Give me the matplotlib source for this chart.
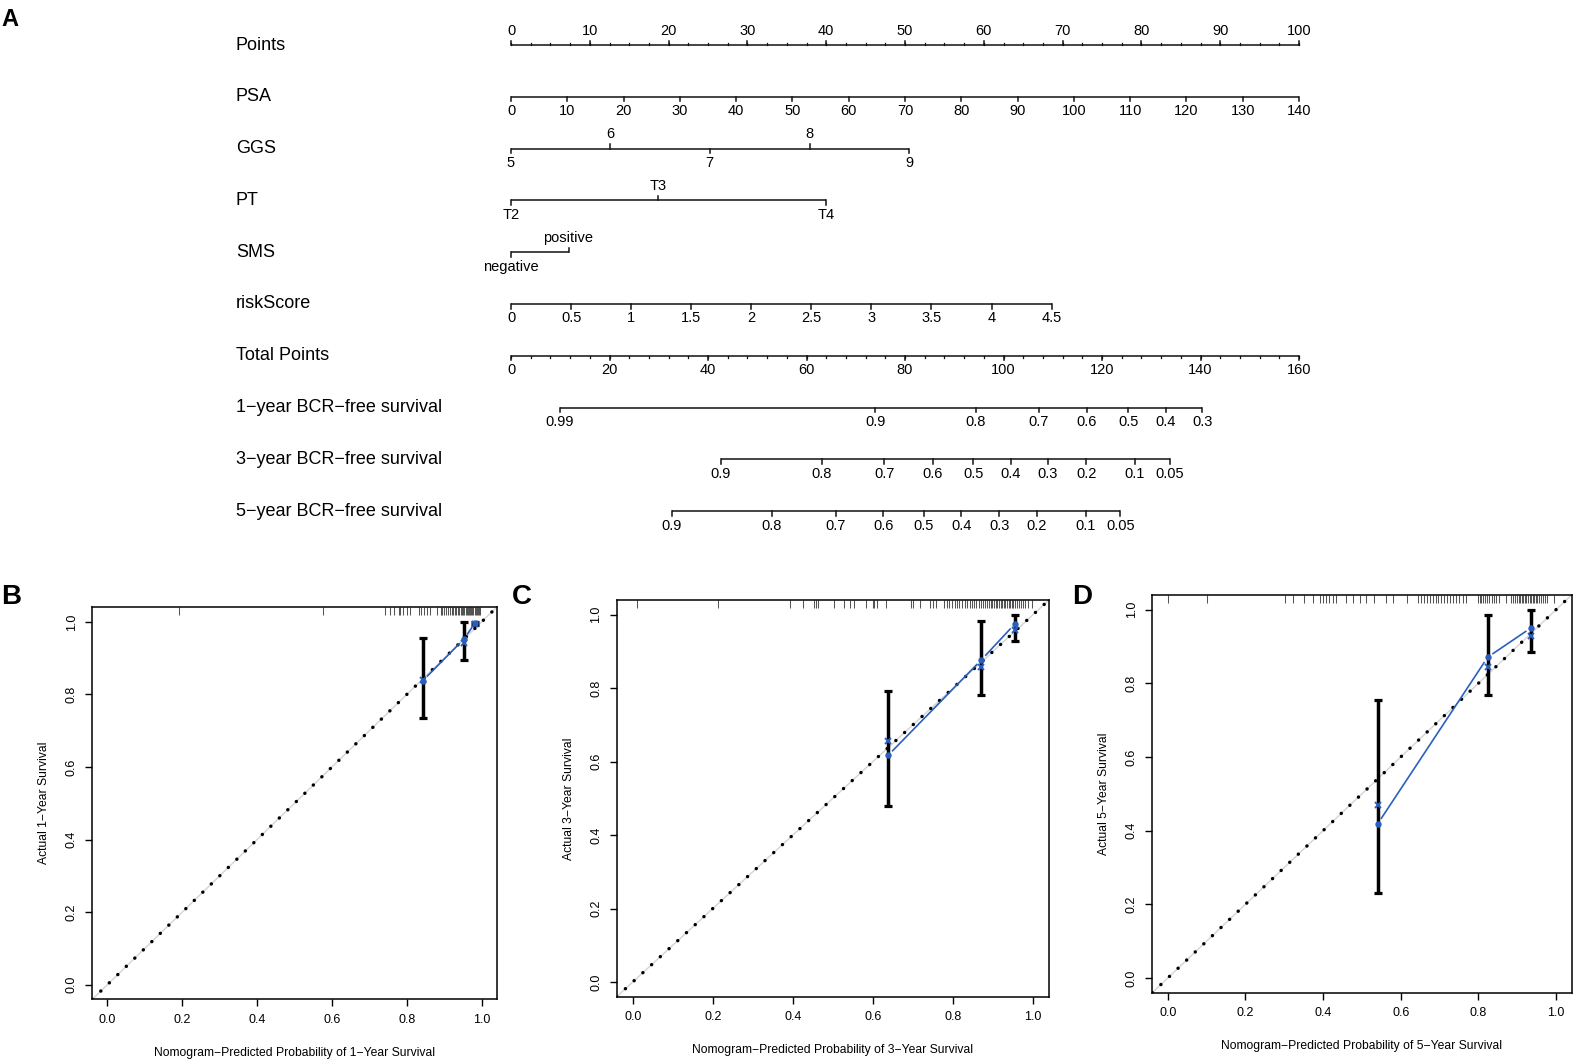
import numpy as np
import matplotlib
matplotlib.use('Agg')
import matplotlib.pyplot as plt
import matplotlib.transforms as mtransforms

plt.rcParams['font.family'] = ['Liberation Sans', 'DejaVu Sans']

W, H = 1573, 1060
BLUE = '#2b5fbf'

# ---------------- nomogram (A) ----------------
# positions are in "Points" units (0-100)
points_labels = [0, 10, 20, 30, 40, 50, 60, 70, 80, 90, 100]
psa_values = [0, 10, 20, 30, 40, 50, 60, 70, 80, 90, 100, 110, 120, 130, 140]
psa_pts_per_unit = 100 / 140
ggs_levels = ['5', '6', '7', '8', '9']
ggs_points = [0, 12.6, 25.2, 37.9, 50.5]
ggs_sides = ['down', 'up', 'down', 'up', 'down']
pt_levels = ['T2', 'T3', 'T4']
pt_points = [0, 18.7, 40.0]
pt_sides = ['down', 'up', 'down']
sms_levels = ['negative', 'positive']
sms_points = [0, 7.3]
sms_sides = ['down', 'up']
risk_values = [0, 0.5, 1, 1.5, 2, 2.5, 3, 3.5, 4, 4.5]
risk_labels = ['0', '0.5', '1', '1.5', '2', '2.5', '3', '3.5', '4', '4.5']
risk_pts_per_unit = 68.6 / 4.5
total_labels = [0, 20, 40, 60, 80, 100, 120, 140, 160]
total_max = 160

# survival scales: tick positions in total points
surv1_labels = ['0.99', '0.9', '0.8', '0.7', '0.6', '0.5', '0.4', '0.3']
surv1_total = [9.85, 74.0, 94.4, 107.2, 116.9, 125.3, 132.9, 140.4]
surv3_labels = ['0.9', '0.8', '0.7', '0.6', '0.5', '0.4', '0.3', '0.2', '0.1', '0.05']
surv3_total = [42.6, 63.1, 75.8, 85.6, 93.9, 101.5, 109.0, 116.8, 126.6, 133.8]
surv5_labels = ['0.9', '0.8', '0.7', '0.6', '0.5', '0.4', '0.3', '0.2', '0.1', '0.05']
surv5_total = [32.6, 53.0, 65.9, 75.6, 83.8, 91.4, 99.1, 106.8, 116.7, 123.7]

row_names = ['Points', 'PSA', 'GGS', 'PT', 'SMS', 'riskScore', 'Total Points',
             '1\u2212year BCR\u2212free survival', '3\u2212year BCR\u2212free survival',
             '5\u2212year BCR\u2212free survival']

# ---------------- calibration (B, C, D) ----------------
b_pred = [0.843, 0.952, 0.983]
b_obs = [0.838, 0.952, 0.998]
b_corr = [0.841, 0.942, 0.995]
b_lo = [0.734, 0.894, 0.992]
b_hi = [0.956, 1.000, 1.000]
b_rug = [0.192, 0.576, 0.742, 0.756, 0.765, 0.778, 0.783, 0.791, 0.800, 0.809,
         0.832, 0.838, 0.845, 0.854, 0.863, 0.881, 0.890, 0.895, 0.900, 0.905,
         0.910, 0.915, 0.920, 0.924, 0.928, 0.932, 0.936, 0.940, 0.944, 0.948,
         0.951, 0.954, 0.957, 0.960, 0.963, 0.966, 0.969, 0.972, 0.975, 0.978,
         0.981, 0.984, 0.987, 0.990, 0.993, 0.996]

c_pred = [0.638, 0.871, 0.954]
c_obs = [0.617, 0.877, 0.974]
c_corr = [0.657, 0.857, 0.958]
c_lo = [0.478, 0.781, 0.928]
c_hi = [0.793, 0.984, 1.000]
c_rug = [0.010, 0.2125, 0.392, 0.425, 0.452, 0.458, 0.463, 0.504, 0.529, 0.542,
         0.554, 0.583, 0.600, 0.604, 0.610, 0.633, 0.694, 0.700, 0.718, 0.742,
         0.750, 0.757, 0.778, 0.784, 0.790, 0.797, 0.805, 0.810, 0.816, 0.822,
         0.830, 0.836, 0.842, 0.848, 0.853, 0.858, 0.864, 0.869, 0.874, 0.879,
         0.884, 0.889, 0.894, 0.898, 0.903, 0.907, 0.911, 0.915, 0.919, 0.923,
         0.927, 0.931, 0.935, 0.939, 0.943, 0.947, 0.951, 0.955, 0.960, 0.965,
         0.970, 0.975, 0.979, 0.988, 0.998]

d_pred = [0.541, 0.824, 0.936]
d_obs = [0.419, 0.871, 0.951]
d_corr = [0.470, 0.845, 0.930]
d_lo = [0.231, 0.769, 0.886]
d_hi = [0.755, 0.986, 1.000]
d_rug = [0.000, 0.100, 0.303, 0.322, 0.352, 0.373, 0.391, 0.399, 0.408, 0.416,
         0.425, 0.433, 0.459, 0.476, 0.494, 0.511, 0.532, 0.562, 0.579, 0.615,
         0.644, 0.652, 0.660, 0.667, 0.675, 0.682, 0.690, 0.697, 0.705, 0.712,
         0.720, 0.728, 0.735, 0.742, 0.750, 0.760, 0.768, 0.798, 0.803, 0.808,
         0.813, 0.818, 0.823, 0.828, 0.834, 0.840, 0.846, 0.854, 0.871, 0.884,
         0.889, 0.894, 0.899, 0.904, 0.908, 0.912, 0.916, 0.920, 0.924, 0.928,
         0.932, 0.936, 0.940, 0.944, 0.948, 0.952, 0.957, 0.962, 0.967, 0.972,
         0.978, 0.996]

fig = plt.figure(figsize=(W / 100, H / 100), dpi=100)

# nomogram axes: x in points 0..100 (px 510..1296), rows 0..9
row_top, row_step = 45.0, 51.8
y_top = row_top - row_step / 2
y_bot = row_top + row_step * 9.5
axn = fig.add_axes([511 / W, 1 - y_bot / H, 788 / W, (y_bot - y_top) / H])
axn.set_xlim(0, 100)
axn.set_ylim(9.5, -0.5)
axn.axis('off')

MAJ = 4.5 / row_step
MIN = 2.5 / row_step
TXT = 10.4  # label offset in points


def draw_scale(row, pos, labels, sides, minor=None):
    axn.plot([min(pos), max(pos)], [row, row], color='#111111', lw=1.1,
             solid_capstyle='butt', clip_on=False)
    for p, lab, side in zip(pos, labels, sides):
        s = -1 if side == 'up' else 1
        axn.plot([p, p], [row, row + s * MAJ], color='#111111', lw=1.1, clip_on=False)
        axn.annotate(lab, (p, row), xytext=(0, -s * TXT), textcoords='offset points',
                     ha='center', va='center', fontsize=10.5, annotation_clip=False)
    if minor is not None:
        s = -1 if sides[0] == 'up' else 1
        for p in minor:
            axn.plot([p, p], [row, row + s * MIN], color='#111111', lw=0.9, clip_on=False)


for i, name in enumerate(row_names):
    axn.text(-34.9, i, name, ha='left', va='center', fontsize=13, clip_on=False)

draw_scale(0, points_labels, [str(v) for v in points_labels], ['up'] * 11,
           minor=np.arange(0, 100.1, 2.5))
draw_scale(1, [v * psa_pts_per_unit for v in psa_values], [str(v) for v in psa_values],
           ['down'] * len(psa_values))
draw_scale(2, ggs_points, ggs_levels, ggs_sides)
draw_scale(3, pt_points, pt_levels, pt_sides)
draw_scale(4, sms_points, sms_levels, sms_sides)
draw_scale(5, [v * risk_pts_per_unit for v in risk_values], risk_labels,
           ['down'] * len(risk_values))
draw_scale(6, [v * 100 / total_max for v in total_labels], [str(v) for v in total_labels],
           ['down'] * len(total_labels), minor=np.arange(0, 160.1, 4) * 100 / total_max)
draw_scale(7, [v * 100 / total_max for v in surv1_total], surv1_labels, ['down'] * 8)
draw_scale(8, [v * 100 / total_max for v in surv3_total], surv3_labels, ['down'] * 10)
draw_scale(9, [v * 100 / total_max for v in surv5_total], surv5_labels, ['down'] * 10)


def calib_panel(rect, year, pred, obs, corr, lo, hi, rug):
    l, r, t, b = rect
    ax = fig.add_axes([l / W, 1 - b / H, (r - l) / W, (b - t) / H])
    ax.set_xlim(-0.04, 1.04)
    ax.set_ylim(-0.04, 1.04)
    diag = [-0.04, 1.04]
    ax.plot(diag, diag, color='#d4d4d4', lw=1.0)
    ax.plot(diag, diag, color='k', lw=2.5, linestyle=(0, (0.01, 3.4)),
            dash_capstyle='round')
    trans = mtransforms.blended_transform_factory(ax.transData, ax.transAxes)
    ax.vlines(rug, 1 - 0.019, 1, transform=trans, color='#555555', lw=0.75)
    obs = np.array(obs)
    ax.errorbar(pred, obs, yerr=[obs - np.array(lo), np.array(hi) - obs], fmt='none',
                ecolor='k', elinewidth=2.5, capsize=3, capthick=2.3)
    # line between observed points, with gaps (like R type="b")
    pix = ax.transData.transform(np.column_stack([pred, obs]))
    gap = 6.5
    inv = ax.transData.inverted()
    for (x0, y0), (x1, y1) in zip(pix[:-1], pix[1:]):
        dist = np.hypot(x1 - x0, y1 - y0)
        if dist <= 2 * gap:
            continue
        ux, uy = (x1 - x0) / dist, (y1 - y0) / dist
        seg = inv.transform([[x0 + ux * gap, y0 + uy * gap], [x1 - ux * gap, y1 - uy * gap]])
        ax.plot(seg[:, 0], seg[:, 1], color=BLUE, lw=1.2)
    ax.plot(pred, obs, 'o', ms=3.6, color=BLUE)
    ax.plot(pred, corr, 'x', ms=4.8, mew=1.4, color=BLUE)

    ticks = [0, 0.2, 0.4, 0.6, 0.8, 1.0]
    tlabs = ['0.0', '0.2', '0.4', '0.6', '0.8', '1.0']
    ax.set_xticks(ticks)
    ax.set_xticklabels(tlabs)
    ax.set_yticks(ticks)
    ax.set_yticklabels(tlabs, rotation=90, va='center')
    ax.tick_params(direction='out', length=5, width=1.0, labelsize=9, pad=5.5)
    for sp in ax.spines.values():
        sp.set_linewidth(1.1)
    ax.set_xlabel('Nomogram\u2212Predicted Probability of %d\u2212Year Survival' % year,
                  fontsize=8.7, labelpad=15)
    ax.set_ylabel('Actual %d\u2212Year Survival' % year, fontsize=8.7, labelpad=11)
    return ax


calib_panel((92.3, 496.7, 607.3, 999.3), 1, b_pred, b_obs, b_corr, b_lo, b_hi, b_rug)
calib_panel((616.7, 1049, 600, 996.7), 3, c_pred, c_obs, c_corr, c_lo, c_hi, c_rug)
calib_panel((1152.3, 1571.5, 595, 992.7), 5, d_pred, d_obs, d_corr, d_lo, d_hi, d_rug)

# panel letters
fig.text(1 / W, 1 - 19 / H, 'A', fontsize=17, fontweight='bold', ha='left', va='center')
fig.text(1 / W, 1 - 597 / H, 'B', fontsize=20, fontweight='bold', ha='left', va='center')
fig.text(512 / W, 1 - 597 / H, 'C', fontsize=20, fontweight='bold', ha='left', va='center')
fig.text(1072 / W, 1 - 597 / H, 'D', fontsize=20, fontweight='bold', ha='left', va='center')

fig.savefig('out.png', dpi=100)
